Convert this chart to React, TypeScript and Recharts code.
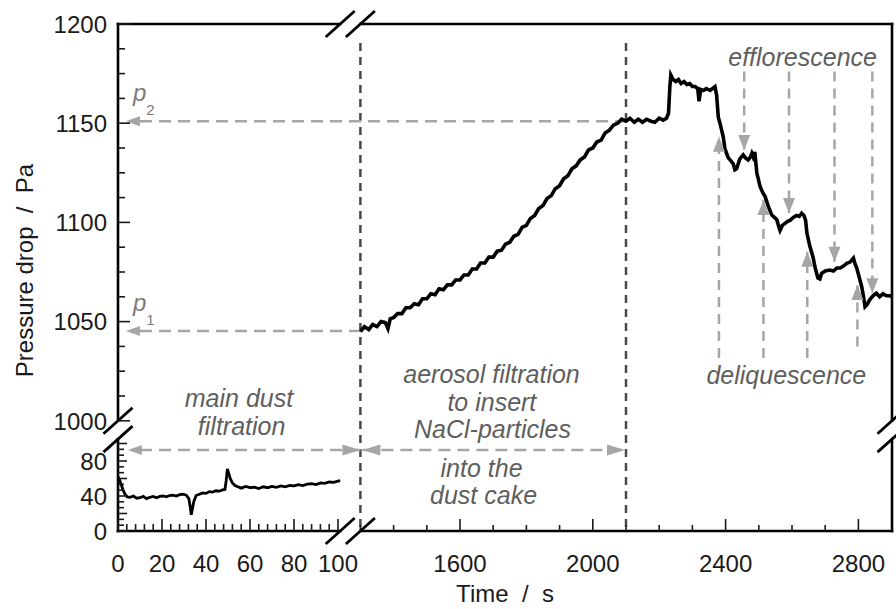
import React from 'react'
import { ComposedChart, Line, Scatter, XAxis, YAxis, ReferenceLine } from 'recharts'

const FONT = '"Liberation Sans", Arial, Helvetica, sans-serif'
const INK = '#1a1a1a'
const NOTE = '#5e5e5e'
const ARROW = '#a6a6a6'
const PHASE = '#4a4a4a'

// main dust filtration (left time section), s / Pa
const DUST_T = [0, 0.8, 1.6, 2.4, 3.2, 4.2, 5.5, 7, 8.5, 10,
  11.5, 13, 14.5, 16, 17.5, 19, 20.5, 22, 23.5, 25,
  26.5, 28, 29.5, 31, 32.2, 32.8, 33.3, 33.8, 34.5, 35.5,
  37, 38.5, 40, 41.5, 43, 44.5, 46, 47.5, 48.6, 49.2,
  49.7, 50.3, 51, 52, 53.2, 54.5, 56, 58, 60, 62,
  64, 66, 68, 70, 72, 74, 76, 78, 80, 82,
  84, 86, 88, 90, 92, 94, 96, 98, 100, 101]
const DUST_P = [62, 58, 52, 46, 42, 39, 38.5, 40, 37.5, 38,
  39.5, 37, 38.5, 39.5, 38, 39.5, 40, 39, 40.5, 41,
  40, 41.5, 42, 41, 37, 28, 18.5, 25, 34, 40.5,
  42, 43.5, 43, 45, 44.5, 46, 45.5, 47, 47.5, 58,
  71, 66, 60, 55, 52, 50.5, 49, 51, 49.5, 50,
  48.5, 50.5, 49.5, 51, 50, 51.5, 50.5, 52, 51.5, 53,
  52, 53.5, 54, 53, 55, 54.5, 56, 55.5, 57, 57.5]

// NaCl aerosol loading + humidity cycles (right time section)
const NACL_T = [1300, 1312, 1325, 1337, 1350, 1362, 1375, 1383, 1390, 1400,
  1412, 1425, 1437, 1450, 1462, 1475, 1487, 1500, 1512, 1525,
  1537, 1550, 1562, 1575, 1587, 1600, 1612, 1625, 1637, 1650,
  1662, 1675, 1687, 1700, 1712, 1725, 1737, 1750, 1762, 1775,
  1787, 1800, 1812, 1825, 1837, 1850, 1862, 1875, 1887, 1900,
  1912, 1925, 1937, 1950, 1962, 1975, 1987, 2000, 2012, 2025,
  2037, 2050, 2062, 2075, 2087, 2100, 2112, 2125, 2137, 2150,
  2162, 2175, 2187, 2200, 2212, 2222, 2228, 2232, 2235, 2242,
  2250, 2258, 2266, 2275, 2283, 2292, 2300, 2308, 2316, 2320,
  2325, 2333, 2342, 2353, 2361, 2368, 2373, 2378, 2383, 2388,
  2393, 2398, 2408, 2416, 2423, 2428, 2433, 2443, 2453, 2460,
  2468, 2475, 2479, 2483, 2488, 2494, 2504, 2512, 2519, 2529,
  2539, 2547, 2554, 2560, 2564, 2571, 2579, 2587, 2594, 2604,
  2614, 2622, 2629, 2636, 2641, 2645, 2654, 2663, 2670, 2678,
  2684, 2689, 2700, 2714, 2725, 2735, 2745, 2755, 2765, 2775,
  2780, 2785, 2790, 2795, 2803, 2810, 2815, 2820, 2826, 2834,
  2844, 2854, 2864, 2874, 2884, 2895, 2900]
const NACL_P = [1045, 1047.5, 1046, 1048.5, 1047.5, 1050, 1049.5, 1046.5, 1051.5, 1052,
  1054, 1054, 1057, 1057, 1059, 1058.5, 1061.5, 1061.5, 1064, 1063.5,
  1066.5, 1066, 1068.5, 1068.5, 1071, 1071, 1073.5, 1073.5, 1076.5, 1076.5,
  1079.5, 1079.5, 1082.5, 1082.5, 1085.5, 1086, 1089, 1090, 1093, 1094,
  1097.5, 1098.5, 1102, 1103.5, 1107, 1108.5, 1112, 1113.5, 1117, 1118.5,
  1122, 1123.5, 1127, 1128.5, 1131.5, 1133, 1136.5, 1137.5, 1140.5, 1141.5,
  1145, 1146.5, 1149, 1150, 1152, 1151, 1152.5, 1150.5, 1152, 1150.5,
  1152, 1151, 1150.5, 1152.5, 1151.5, 1152.5, 1155, 1168, 1174.3, 1172,
  1171, 1172, 1170, 1171, 1169.5, 1170, 1168.5, 1168.5, 1167.5, 1161,
  1167, 1166.5, 1167.5, 1166.5, 1167.5, 1168.4, 1164, 1153, 1150, 1146.5,
  1143, 1137, 1132.5, 1131, 1129.5, 1126.5, 1127, 1132, 1134, 1132.5,
  1131.5, 1133, 1134.8, 1133, 1135.5, 1125, 1118, 1115, 1113, 1108,
  1103.7, 1102.5, 1101.5, 1098, 1096, 1098.5, 1099.5, 1100.5, 1101, 1102.5,
  1103.5, 1103, 1104.6, 1103.5, 1101, 1094.5, 1087.8, 1082.7, 1077, 1072,
  1071.5, 1074.3, 1075.5, 1076, 1075.5, 1077, 1077, 1078, 1079.4, 1080,
  1081, 1082, 1079, 1077, 1072, 1067.6, 1063, 1057.5, 1058.5, 1061,
  1063, 1064.3, 1062.5, 1064, 1063, 1063, 1062.5]

// axis labels
const X_LABELS_LEFT = [0, 20, 40, 60, 80, 100]
const X_LABELS_RIGHT = [1600, 2000, 2400, 2800]
const Y_LABELS_LOW = [0, 40, 80]
const Y_LABELS_HIGH = [1000, 1050, 1100, 1150, 1200]

// annotations
const PHASE_T = [1300, 2100]
const P1 = 1045.3
const P2 = 1151
const SPAN_P = 92.6
const EFFLO_T = [2456, 2591, 2728, 2842]
const EFFLO_TIP = [1136.5, 1104.7, 1080.2, 1064.3]
const DELIQ_T = [2380, 2514, 2646, 2797]
const DELIQ_TIP = [1143.2, 1111.3, 1085.2, 1068.5]
const DELIQ_FROM = [1031.6, 1031.6, 1031.6, 1037.5]
const NOTE_TEXT = ['main dust', 'filtration', 'aerosol filtration', 'to insert', 'NaCl-particles', 'into the', 'dust cake', 'efflorescence', 'deliquescence']
const NOTE_T = [55, 56.2, 1695, 1696, 1698, 1665, 1671, 2632, 2583]
const NOTE_P = [1011.3, 997.4, 1023.6, 1009.6, 995.7, 71.7, 41.1, 1183.4, 1023]

// broken axes: two time sections and two pressure sections on one pixel-like scale
const U_MAX = 774
const V_MAX = 507
const uOf = (t: number) => (t < 500 ? 2.2 * t : 342 + (t - 1600) * 0.332)
const vOf = (p: number) => (p < 500 ? 0.875 * p : V_MAX - (1200 - p) * 1.984)
const pt = (t: number, p: number) => ({ x: uOf(t), y: vOf(p) })
const XB = [uOf(101), uOf(1300)]
const YB = [vOf(105), vOf(1000)]

type TickInfo = { at: number; len: number; label?: string }

const range = (a: number, b: number, s: number) => {
  const out: number[] = []
  for (let k = 0; a + k * s <= b + 1e-6; k++) out.push(a + k * s)
  return out
}

const BOTTOM_TICKS: TickInfo[] = [
  ...range(0, 100, 4).map(t => ({ at: uOf(t), len: t % 20 === 0 ? 12 : 7, label: X_LABELS_LEFT.includes(t) ? String(t) : undefined })),
  ...range(1300, 2800, 100).map(t => ({ at: uOf(t), len: X_LABELS_RIGHT.includes(t) ? 12 : 6, label: X_LABELS_RIGHT.includes(t) ? String(t) : undefined })),
]
const TOP_TICKS: TickInfo[] = [
  ...range(0, 100, 5).map(t => ({ at: uOf(t), len: t % 20 === 0 ? 12 : 7 })),
  ...range(1300, 2800, 100).map(t => ({ at: uOf(t), len: X_LABELS_RIGHT.includes(t) ? 12 : 7 })),
]
const Y_TICKS: TickInfo[] = [
  ...range(0, 15, 1).map(k => ({ at: vOf((k * 20) / 3), len: k % 3 === 0 ? 9 : 6, label: Y_LABELS_LOW.includes(Math.round((k * 20) / 3)) && k % 3 === 0 ? String(Math.round((k * 20) / 3)) : undefined })),
  ...range(0, 16, 1).map(k => ({ at: vOf(1000 + k * 12.5), len: k % 4 === 0 ? 12 : 7, label: Y_LABELS_HIGH.includes(1000 + k * 12.5) ? String(1000 + k * 12.5) : undefined })),
]

const findTick = (list: TickInfo[], v: number) => list.find(d => Math.abs(d.at - v) < 0.01)

const bottomTick = (props: any) => {
  const { x, y, payload } = props
  const d = findTick(BOTTOM_TICKS, payload.value)
  if (!d) return <g />
  return (
    <g>
      <line x1={x} x2={x} y1={y} y2={y - d.len} stroke={INK} strokeWidth={1.6} />
      {d.label && <text x={x} y={y + 41} textAnchor="middle" fontSize={24} fill={INK}>{d.label}</text>}
    </g>
  )
}
const topTick = (props: any) => {
  const { x, y, payload } = props
  const d = findTick(TOP_TICKS, payload.value)
  if (!d) return <g />
  return <line x1={x} x2={x} y1={y} y2={y + d.len} stroke={INK} strokeWidth={1.6} />
}
const leftTick = (props: any) => {
  const { x, y, payload } = props
  const d = findTick(Y_TICKS, payload.value)
  if (!d) return <g />
  return (
    <g>
      <line x1={x} x2={x + d.len} y1={y} y2={y} stroke={INK} strokeWidth={1.6} />
      {d.label && <text x={x - 11} y={y + 8.7} textAnchor="end" fontSize={24} fill={INK}>{d.label}</text>}
    </g>
  )
}
const rightTick = (props: any) => {
  const { x, y, payload } = props
  const d = findTick(Y_TICKS, payload.value)
  if (!d) return <g />
  return <line x1={x - d.len} x2={x} y1={y} y2={y} stroke={INK} strokeWidth={1.6} />
}

const Head = (props: any) => {
  const { cx, cy, payload } = props
  const L = payload.len
  const W = payload.half
  let pts = ''
  if (payload.dir === 'left') pts = `${cx},${cy} ${cx + L},${cy - W} ${cx + L},${cy + W}`
  if (payload.dir === 'right') pts = `${cx},${cy} ${cx - L},${cy - W} ${cx - L},${cy + W}`
  if (payload.dir === 'down') pts = `${cx},${cy} ${cx - W},${cy - L} ${cx + W},${cy - L}`
  if (payload.dir === 'up') pts = `${cx},${cy} ${cx - W},${cy + L} ${cx + W},${cy + L}`
  return <polygon points={pts} fill={ARROW} />
}

const NoteText = (props: any) => {
  const { cx, cy, payload } = props
  return (
    <text x={cx} y={cy} dy="0.36em" textAnchor="middle" fontSize={25} fontStyle="italic" fill={NOTE}>
      {payload.text}
    </text>
  )
}

const PLabel = (props: any) => {
  const { cx, cy, payload } = props
  return (
    <text x={cx} y={cy - 20} fontSize={24} fontStyle="italic" fill="#7b7b7b">
      p<tspan fontSize={15} fontStyle="normal" dy={14}>{payload.sub}</tspan>
    </text>
  )
}

const dustData = DUST_T.map((t, i) => ({ u: uOf(t), v: vOf(DUST_P[i]) }))
const naclData = NACL_T.map((t, i) => ({ u: uOf(t), v: vOf(NACL_P[i]) }))

const heads = [
  { ...pt(3.6, P2), dir: 'left', len: 14, half: 5 },
  { ...pt(3.6, P1), dir: 'left', len: 14, half: 5 },
  { ...pt(4.5, SPAN_P), dir: 'left', len: 14, half: 5 },
  { ...pt(1300, SPAN_P), dir: 'right', len: 18, half: 5.5 },
  { ...pt(1306, SPAN_P), dir: 'left', len: 18, half: 5.5 },
  { ...pt(2097, SPAN_P), dir: 'right', len: 18, half: 5.5 },
  ...EFFLO_T.map((t, i) => ({ ...pt(t, EFFLO_TIP[i]), dir: 'down', len: 15, half: 6 })),
  ...DELIQ_T.map((t, i) => ({ ...pt(t, DELIQ_TIP[i]), dir: 'up', len: 15, half: 6 })),
].map(h => ({ u: h.x, v: h.y, dir: h.dir, len: h.len, half: h.half }))

const notes = NOTE_TEXT.map((text, i) => ({ u: uOf(NOTE_T[i]), v: vOf(NOTE_P[i]), text }))
const pLabels = [
  { u: uOf(6.8), v: vOf(P2), sub: '2' },
  { u: uOf(6.8), v: vOf(P1), sub: '1' },
]

const frame = [
  [{ x: 0, y: 0 }, { x: XB[0], y: 0 }],
  [{ x: XB[1], y: 0 }, { x: U_MAX, y: 0 }],
  [{ x: 0, y: V_MAX }, { x: XB[0], y: V_MAX }],
  [{ x: XB[1], y: V_MAX }, { x: U_MAX, y: V_MAX }],
  [{ x: 0, y: 0 }, { x: 0, y: YB[0] }],
  [{ x: 0, y: YB[1] }, { x: 0, y: V_MAX }],
  [{ x: U_MAX, y: 0 }, { x: U_MAX, y: YB[0] }],
  [{ x: U_MAX, y: YB[1] }, { x: U_MAX, y: V_MAX }],
]
const breakCenters = [
  [XB[0], 0], [XB[1], 0], [XB[0], V_MAX], [XB[1], V_MAX],
  [0, YB[0]], [0, YB[1]], [U_MAX, YB[0]], [U_MAX, YB[1]],
]

const dashed = [
  [pt(10, P2), pt(2100, P2)],
  [pt(10, P1), pt(1300, P1)],
  [pt(10, SPAN_P), pt(1300, SPAN_P)],
  [pt(1306, SPAN_P), pt(2097, SPAN_P)],
  ...EFFLO_T.map((t, i) => [pt(t, 1176), pt(t, EFFLO_TIP[i])]),
  ...DELIQ_T.map((t, i) => [pt(t, DELIQ_FROM[i]), pt(t, DELIQ_TIP[i])]),
]

export default function App() {
  return (
    <div style={{ position: 'absolute', left: 0, top: 0, background: '#fff' }}>
      <ComposedChart width={896} height={609} margin={{ top: 24, right: 4, bottom: 0, left: 0 }} style={{ fontFamily: FONT }}>
        <XAxis
          dataKey="u" type="number" domain={[0, U_MAX]} allowDataOverflow
          ticks={BOTTOM_TICKS.map(d => d.at)} interval={0} tickSize={0} tickMargin={0}
          tickLine={false} axisLine={false} height={78} tick={bottomTick}
          label={{ value: 'Time\u00a0\u00a0/\u00a0\u00a0s', position: 'insideBottom', offset: 7, fontSize: 24, fill: INK }}
        />
        <XAxis
          xAxisId="top" orientation="top" dataKey="u" type="number" domain={[0, U_MAX]} allowDataOverflow
          ticks={TOP_TICKS.map(d => d.at)} interval={0} tickSize={0} tickMargin={0}
          tickLine={false} axisLine={false} height={0} tick={topTick}
        />
        <YAxis
          dataKey="v" type="number" domain={[0, V_MAX]} allowDataOverflow
          ticks={Y_TICKS.map(d => d.at)} interval={0} tickSize={0} tickMargin={0}
          tickLine={false} axisLine={false} width={118} tick={leftTick}
          label={{ value: 'Pressure drop\u00a0\u00a0/\u00a0\u00a0Pa', angle: -90, position: 'center', dx: -35, dy: -7, fontSize: 24, fill: INK }}
        />
        <YAxis
          yAxisId="right" orientation="right" dataKey="v" type="number" domain={[0, V_MAX]} allowDataOverflow
          ticks={Y_TICKS.map(d => d.at)} interval={0} tickSize={0} tickMargin={0}
          tickLine={false} axisLine={false} width={0} tick={rightTick}
        />

        {PHASE_T.map(t => (
          <ReferenceLine key={`ph${t}`} segment={[pt(t, 1190.4), { x: uOf(t), y: 0 }]} stroke={PHASE} strokeWidth={2.5} strokeDasharray="8 6" ifOverflow="visible" />
        ))}
        {dashed.map((s, i) => (
          <ReferenceLine key={`d${i}`} segment={s} stroke={ARROW} strokeWidth={2.5} strokeDasharray={i < 4 ? '12 7' : '10 7'} ifOverflow="visible" />
        ))}

        <Line data={dustData} dataKey="v" type="linear" stroke="#000" strokeWidth={2.8} dot={false} isAnimationActive={false} />
        <Line data={naclData} dataKey="v" type="linear" stroke="#000" strokeWidth={3.6} dot={false} isAnimationActive={false} />
        <Scatter data={heads} dataKey="v" shape={Head} isAnimationActive={false} />
        <Scatter data={notes} dataKey="v" shape={NoteText} isAnimationActive={false} />
        <Scatter data={pLabels} dataKey="v" shape={PLabel} isAnimationActive={false} />

        {frame.map((s, i) => (
          <ReferenceLine key={`f${i}`} segment={s} stroke="#000" strokeWidth={2.6} strokeLinecap="square" ifOverflow="visible" />
        ))}
        {breakCenters.map(([u, v], i) => (
          <ReferenceLine key={`b${i}`} segment={[{ x: u - 14.5, y: v - 13 }, { x: u + 14.5, y: v + 13 }]} stroke="#000" strokeWidth={2.8} ifOverflow="visible" />
        ))}
      </ComposedChart>
    </div>
  )
}
